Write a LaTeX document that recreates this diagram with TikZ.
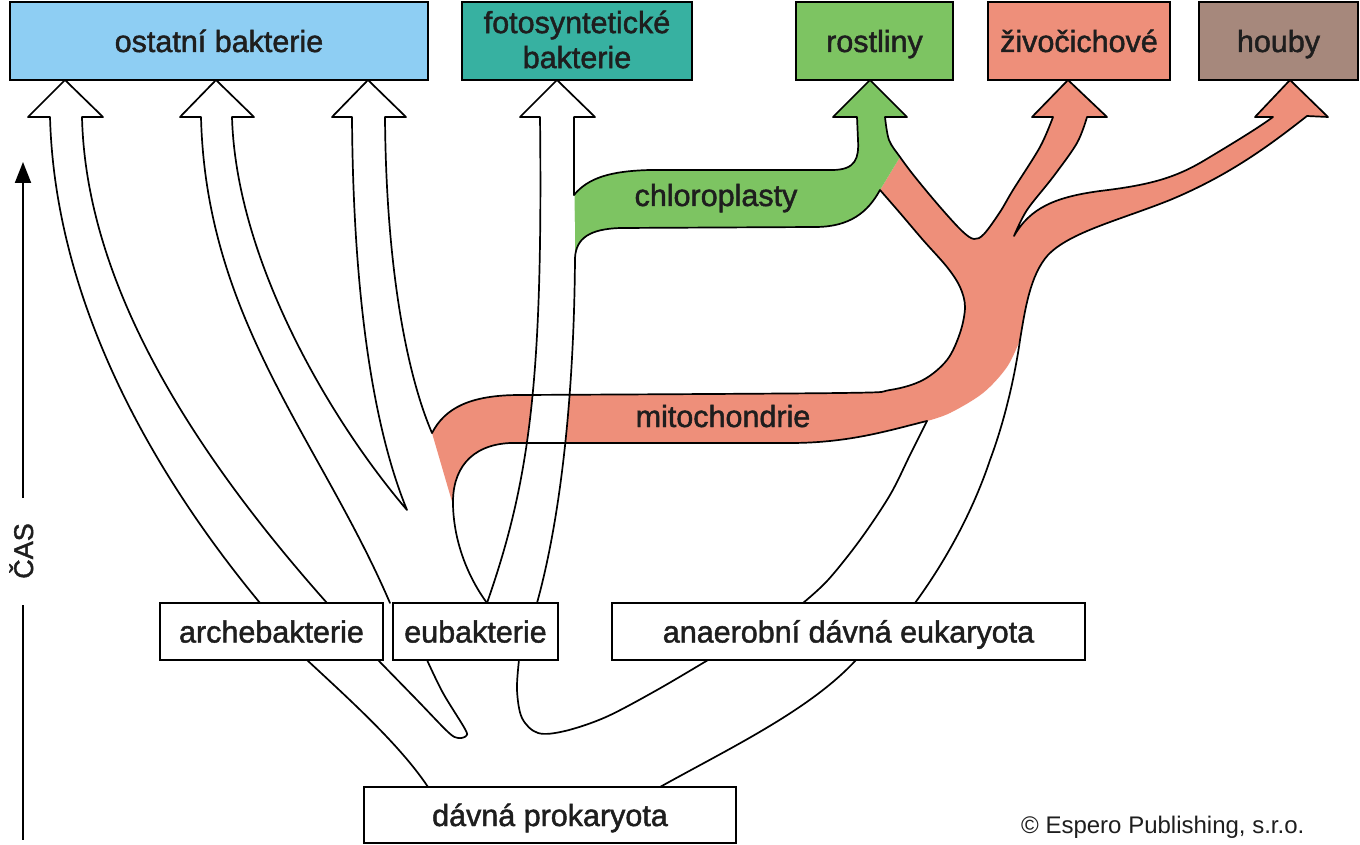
\documentclass[tikz,border=0pt]{standalone}
\usepackage{fontspec}
\setmainfont{Liberation Sans}
\newfontfamily\lblfam[FakeBold=1.5]{Liberation Sans}
\usetikzlibrary{arrows.meta}
\definecolor{cblue}{HTML}{8ECEF3}
\definecolor{cteal}{HTML}{37B1A1}
\definecolor{cgreen}{HTML}{7DC462}
\definecolor{csalmon}{HTML}{EE8F7A}
\definecolor{cbrown}{HTML}{A6887C}
\definecolor{ctext}{HTML}{1E1E1E}
\newcommand{\lblfont}{\lblfam\fontsize{30.5}{35}\selectfont}
\begin{document}
\begin{tikzpicture}[x=1pt,y=-1pt,
  edge/.style={line width=1.7pt, line join=round, line cap=round},
  curvy/.style={smooth, tension=0.55},
  boxn/.style={draw=black, line width=2.6pt, rectangle, inner sep=0pt,
    text height=22pt, text depth=0pt, font=\lblfont, text=ctext},
  lbl/.style={font=\lblfont, text=ctext, inner sep=0pt}]
\fill[white] (0,0) rectangle (1360,845);
\useasboundingbox (0,0) rectangle (1360,845);

% salmon region (mitochondria + Y)
\fill[csalmon] (900,157)
 -- plot[curvy] coordinates {(900,157) (915,177) (940,207) (962,231) (974,239) (984,234) (1000,212) (1013,190) (1040,147) (1053,117)}
 -- (1032,117) -- (1068,80) -- (1107,117) -- (1087,117)
 -- plot[curvy] coordinates {(1087,117) (1077,143) (1053,177) (1027,210) (1014,236)}
 .. controls (1030,208) and (1055,197) .. (1100,191)
 .. controls (1150,185) and (1175,178) .. (1205,160)
 .. controls (1235,142) and (1258,128) .. (1273,117)
 -- (1255,117) -- (1290,80) -- (1328,117) -- (1307,116)
 .. controls (1270,145) and (1230,175) .. (1170,200)
 .. controls (1120,220) and (1070,232) .. (1048,255)
 .. controls (1030,275) and (1025,310) .. (1020,340)
 -- plot[curvy] coordinates {(1020,340) (1007,367) (983,393) (950,413) (927,421)}
 .. controls (890,430) and (850,443) .. (790,443) -- (510,443)
 .. controls (470,445) and (452,470) .. (453,505)
 -- (432,433)
 .. controls (445,408) and (470,395) .. (520,395)
 -- plot[curvy] coordinates {(520,395) (840,393) (890,390) (923,380) (947,360) (960,333) (965,307) (960,287) (947,267) (923,240) (900,213) (880,190)}
 -- cycle;

% green region (chloroplasts + plants)
\fill[cgreen] (857,117) -- (833,117) -- (870,80) -- (907,117) -- (885,117)
 -- plot[curvy] coordinates {(885,117) (889,140) (900,157)}
 -- (880,190)
 .. controls (868,212) and (850,227) .. (815,227) -- (620,228)
 .. controls (590,229) and (576,238) .. (575,258)
 -- (574,195)
 .. controls (588,178) and (610,171) .. (650,170) -- (832,170)
 .. controls (856,170) and (859,158) .. (858,140) -- cycle;

% white shaft of the photosynthetic-bacteria arrow (over mitochondria)
\fill[white] (540,117) .. controls (543,380) and (530,480) .. (487,603)
 -- (537,603) .. controls (560,520) and (574,400) .. (575,258)
 -- (574,117) -- cycle;

% arrow 1 (archebakterie -> ostatni)
\draw[edge] (260,603) .. controls (150,470) and (55,300) .. (50,117)
 -- (28,117) -- (65,80) -- (103,117) -- (82,117)
 .. controls (86,290) and (200,460) .. (327,603);

% arrows 2 and 3 (eubakterie -> ostatni)
\draw[edge] (390,603) .. controls (320,440) and (206,320) .. (201,117)
 -- (180,117) -- (216,80) -- (254,117) -- (232,117)
 .. controls (236,260) and (330,420) .. (407,510)
 .. controls (370,420) and (353,280) .. (352,117)
 -- (332,117) -- (368,80) -- (406,117) -- (385,117)
 .. controls (386,260) and (405,370) .. (432,433);

% arrow 4 left edge and head
\draw[edge] (487,603) .. controls (530,480) and (543,380) .. (540,117)
 -- (520,117) -- (557,80) -- (595,117) -- (574,117) -- (574,195);

% mitochondria top, left arm, chloroplast bottom, arrow 4 right edge
\draw[edge] (432,433) .. controls (445,408) and (470,395) .. (520,395)
 -- plot[curvy] coordinates {(520,395) (840,393) (890,390) (923,380) (947,360) (960,333) (965,307) (960,287) (947,267) (923,240) (900,213) (880,190)}
 .. controls (868,212) and (850,227) .. (815,227) -- (620,228)
 .. controls (590,229) and (576,238) .. (575,258)
 .. controls (574,400) and (560,520) .. (537,603);

% chloroplast top, plants, animals, fungi, right trunk
\draw[edge] (574,195) .. controls (588,178) and (610,171) .. (650,170) -- (832,170)
 .. controls (856,170) and (859,158) .. (858,140) -- (857,117)
 -- (833,117) -- (870,80) -- (907,117) -- (885,117)
 -- plot[curvy] coordinates {(885,117) (889,140) (900,157) (915,177) (940,207) (962,231) (974,239) (984,234) (1000,212) (1013,190) (1040,147) (1053,117)}
 -- (1032,117) -- (1068,80) -- (1107,117) -- (1087,117)
 -- plot[curvy] coordinates {(1087,117) (1077,143) (1053,177) (1027,210) (1014,236)}
 .. controls (1030,208) and (1055,197) .. (1100,191)
 .. controls (1150,185) and (1175,178) .. (1205,160)
 .. controls (1235,142) and (1258,128) .. (1273,117)
 -- (1255,117) -- (1290,80) -- (1328,117) -- (1307,116)
 .. controls (1270,145) and (1230,175) .. (1170,200)
 .. controls (1120,220) and (1070,232) .. (1048,255)
 .. controls (1030,275) and (1025,310) .. (1020,340)
 .. controls (1015,375) and (1005,420) .. (990,460)
 .. controls (975,505) and (950,555) .. (915,603);

% mitochondria bottom and tube down to eubakterie
\draw[edge] (927,421) .. controls (890,430) and (850,443) .. (790,443) -- (510,443)
 .. controls (470,445) and (452,470) .. (453,505)
 .. controls (454,545) and (470,580) .. (487,603);
% anaerobic left line
\draw[edge] plot[curvy] coordinates {(803,603) (828,580) (860,540) (890,495) (910,455) (927,421)};

% lower tubes
\draw[edge] (307,660) .. controls (350,700) and (400,745) .. (428,787);
\draw[edge] plot[curvy] coordinates {(378,660) (417,700) (448,732) (458,738) (466,736) (465,729) (443,693) (427,660)};
\draw[edge] plot[curvy] coordinates {(519,660) (517,690) (522,718) (538,733) (565,731) (606,717) (657,690) (708,660)};
\draw[edge] (660,787) .. controls (730,748) and (810,710) .. (856,660);

% boxes
\node[boxn, fill=cblue, minimum width=418pt, minimum height=78pt] (ostatni) at (219,41) {ostatní bakterie};
\node[boxn, fill=cteal, minimum width=230pt, minimum height=78pt] (foto) at (577,41) {};
\node[lbl, align=center] (fototext) at (577,39.5) {fotosyntetické\\bakterie};
\node[boxn, fill=cgreen, minimum width=157pt, minimum height=78pt] (rostliny) at (874.5,41) {rostliny};
\node[boxn, fill=csalmon, minimum width=182pt, minimum height=78pt] (zivoc) at (1079,41) {živočichové};
\node[boxn, fill=cbrown, minimum width=159pt, minimum height=78pt] (houby) at (1278.5,41) {houby};

\node[boxn, fill=white, minimum width=223pt, minimum height=57pt] (arche) at (271.5,631.5) {archebakterie};
\node[boxn, fill=white, minimum width=165pt, minimum height=57pt] (eubakt) at (475.5,631.5) {eubakterie};
\node[boxn, fill=white, minimum width=473pt, minimum height=57pt] (anaer) at (848.5,631.5) {anaerobní dávná eukaryota};
\node[boxn, fill=white, minimum width=372pt, minimum height=56pt] (prokar) at (550,815) {dávná prokaryota};

% band labels
\node[lbl, anchor=base] (chlor) at (716,206) {chloroplasty};
\node[lbl, anchor=base] (mito) at (723,427) {mitochondrie};

% time axis
\coordinate (axB) at (23,498);
\coordinate (axT) at (23,162);
\coordinate (axC) at (23,605);
\coordinate (axD) at (23,840);
\draw[line width=2pt, -{Triangle[length=21pt,width=16pt]}] (axB) -- (axT);
\draw[line width=2pt] (axC) -- (axD);
\node[rotate=90, anchor=base, inner sep=0pt, text=ctext, font=\lblfam\fontsize{27}{30}\selectfont] (cas) at (33,551) {ČAS};

% copyright
\node[anchor=base west, inner sep=0pt, text=ctext, font=\fontsize{24}{26}\selectfont] (copy) at (1021,833) {© Espero Publishing, s.r.o.};
\end{tikzpicture}
\end{document}
